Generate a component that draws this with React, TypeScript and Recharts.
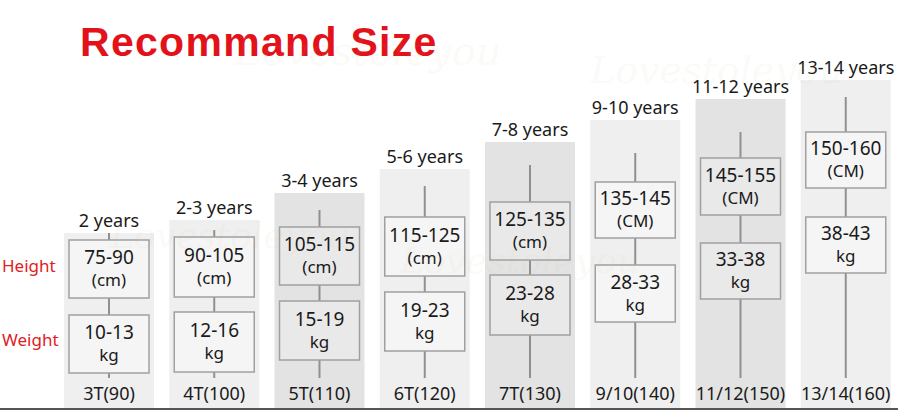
import { ComposedChart, Bar, XAxis, YAxis, Cell, LabelList } from 'recharts';

const FONT = '"Noto Sans", "Open Sans", sans-serif';

// size chart, one entry per column
const sizes = ['3T(90)', '4T(100)', '5T(110)', '6T(120)', '7T(130)', '9/10(140)', '11/12(150)', '13/14(160)'];
const ages = ['2 years', '2-3 years', '3-4 years', '5-6 years', '7-8 years', '9-10 years', '11-12 years', '13-14 years'];
const heightRanges = ['75-90', '90-105', '105-115', '115-125', '125-135', '135-145', '145-155', '150-160'];
const heightUnits = ['(cm)', '(cm)', '(cm)', '(cm)', '(cm)', '(CM)', '(CM)', '(CM)'];
const weightRanges = ['10-13', '12-16', '15-19', '19-23', '23-28', '28-33', '33-38', '38-43'];

// levels in chart units (distance above the baseline)
const columnTops = [176, 189, 216, 240, 267, 289, 310, 329];
const stemTops = [176, 179, 199, 223, 244, 256, 277, 312];
const stemBottoms = [31, 31, 31, 31, 31, 31, 31, 31];
const heightLows = [111, 112, 124, 133, 149, 171, 194, 221];
const heightHighs = [169, 172, 182, 192, 207, 227, 251, 277];
const weightLows = [36, 37, 49, 58, 74, 87, 110, 136];
const weightHighs = [94, 97, 108, 117, 134, 144, 166, 192];
const shaded = [false, false, true, false, true, false, true, false];

const rowLabels = ['Height', 'Weight'];
const rowLevels = [143, 69];

const data = sizes.map((size, i) => ({
  size,
  age: ages[i],
  column: columnTops[i],
  stem: [stemBottoms[i], stemTops[i]],
  heightBox: [heightLows[i], heightHighs[i]],
  weightBox: [weightLows[i], weightHighs[i]],
}));

const columnFill = (i: number) => (shaded[i] ? '#e3e3e3' : '#efefef');
const boxFill = (i: number) => (shaded[i] ? '#e9e9e9' : '#f5f5f5');

function makeBox(lines: (i: number) => [string, string]) {
  return (props: any) => {
    const { x, y, width, height, index } = props;
    const top = Math.min(y, y + height);
    const h = Math.abs(height);
    const cx = x + width / 2;
    const cy = top + h / 2;
    const [first, second] = lines(index);
    return (
      <g>
        <rect x={x} y={top} width={width} height={h} fill={boxFill(index)} stroke="#a0a0a0" strokeWidth={1.5} />
        <text textAnchor="middle" fontFamily={FONT} fill="#1a1a1a">
          <tspan x={cx} y={cy - 5} fontSize={19}>{first}</tspan>
          <tspan x={cx} y={cy + 17} fontSize={17}>{second}</tspan>
        </text>
      </g>
    );
  };
}

const HeightBox = makeBox((i) => [heightRanges[i], heightUnits[i]]);
const WeightBox = makeBox((i) => [weightRanges[i], 'kg']);

const watermarks = [
  { left: 235, top: 28, size: 40 },
  { left: 590, top: 48, size: 38 },
  { left: 110, top: 215, size: 36 },
  { left: 400, top: 240, size: 36 },
];

const PAD = { left: 56, right: 0 };

export default function App() {
  return (
    <div style={{ position: 'absolute', left: 0, top: 0, width: 900, height: 419, background: '#fff', overflow: 'hidden' }}>
      <ComposedChart width={900} height={419} data={data} margin={{ top: 0, right: 2, bottom: 0, left: 0 }}>
        <XAxis
          xAxisId="col"
          dataKey="size"
          height={10}
          tick={false}
          tickLine={false}
          axisLine={{ stroke: '#555', strokeWidth: 2 }}
          padding={PAD}
        />
        <XAxis xAxisId="stem" dataKey="size" hide padding={PAD} />
        <XAxis xAxisId="hbox" dataKey="size" hide padding={PAD} />
        <XAxis xAxisId="wbox" dataKey="size" hide padding={PAD} />
        <YAxis
          type="number"
          domain={[0, 409]}
          ticks={rowLevels}
          mirror
          axisLine={false}
          tickLine={false}
          tickSize={0}
          tickMargin={2}
          tick={{ fill: '#e0201e', fontSize: 17, fontFamily: FONT }}
          tickFormatter={(v: number) => rowLabels[rowLevels.indexOf(v)]}
        />
        <Bar xAxisId="col" dataKey="column" barSize={90} isAnimationActive={false}>
          {data.map((_, i) => (
            <Cell key={i} fill={columnFill(i)} />
          ))}
          <LabelList dataKey="age" position="top" offset={6} fill="#1a1a1a" fontSize={18} fontFamily={FONT} />
          <LabelList dataKey="size" position="insideBottom" offset={9} fill="#1a1a1a" fontSize={18} fontFamily={FONT} />
        </Bar>
        <Bar xAxisId="stem" dataKey="stem" barSize={2} fill="#909090" isAnimationActive={false} />
        <Bar xAxisId="hbox" dataKey="heightBox" barSize={80} shape={HeightBox} isAnimationActive={false} />
        <Bar xAxisId="wbox" dataKey="weightBox" barSize={80} shape={WeightBox} isAnimationActive={false} />
      </ComposedChart>
      <div
        style={{
          position: 'absolute',
          left: 80,
          top: 22,
          fontFamily: '"Liberation Sans", Arial, sans-serif',
          fontWeight: 'bold',
          fontSize: 41,
          lineHeight: '41px',
          letterSpacing: 1.3,
          color: '#e3121a',
          whiteSpace: 'nowrap',
        }}
      >
        Recommand Size
      </div>
      {watermarks.map((w, i) => (
        <div
          key={i}
          style={{
            position: 'absolute',
            left: w.left,
            top: w.top,
            fontFamily: '"DejaVu Serif", serif',
            fontStyle: 'italic',
            fontSize: w.size,
            color: 'rgba(205, 190, 140, 0.08)',
            whiteSpace: 'nowrap',
            pointerEvents: 'none',
          }}
        >
          Lovestoleyou
        </div>
      ))}
    </div>
  );
}
